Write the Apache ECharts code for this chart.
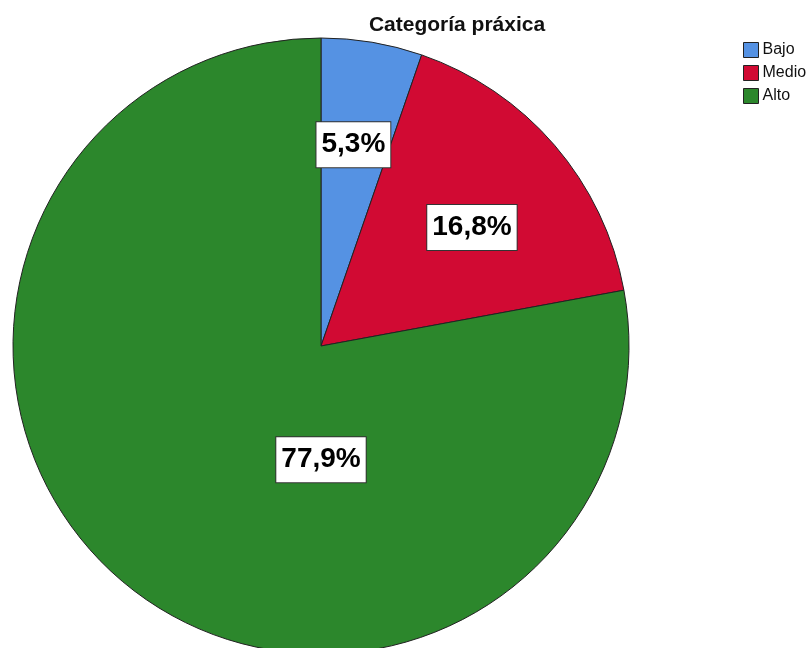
<!DOCTYPE html>
<html>
<head>
<meta charset="utf-8">
<script src="https://cdn.jsdelivr.net/npm/echarts@6/dist/echarts.min.js"></script>
<style>
html,body{margin:0;padding:0;background:#fff;}
#chart{width:811px;height:648px;}
</style>
</head>
<body>
<div id="chart"></div>
<script>
const title = 'Categoría práxica';
const categories = ['Bajo', 'Medio', 'Alto'];
const percents = [5.3, 16.8, 77.9];
const colors = ['#5592e3', '#d10a33', '#2c872c'];

const FONT = '"Liberation Sans", Arial, sans-serif';
const CX = 321, CY = 346, R = 308;

const chart = echarts.init(document.getElementById('chart'), null, {renderer: 'canvas'});

function fmt(v) { return v.toFixed(1).replace('.', ',') + '%'; }

// label anchor: [radius fraction, angle in degrees clockwise from top]
function labelAnchor(i) {
  const total = percents.reduce((a, b) => a + b, 0);
  let start = 0;
  for (let k = 0; k < i; k++) start += percents[k];
  const mid = (start + percents[i] / 2) / total * 360;
  if (i === 0) return [0.662, mid - 0.4];
  if (i === 1) return [0.623, mid + 2.56];
  return [0.369, 180];
}

chart.setOption({
  animation: false,
  backgroundColor: '#fff',
  title: {
    text: title,
    left: 452, top: 10, textAlign: 'center',
    textStyle: {fontFamily: FONT, fontSize: 21, fontWeight: 'bold', color: '#111'}
  },
  legend: {
    orient: 'vertical',
    left: 743, top: 42,
    padding: 0,
    itemWidth: 15, itemHeight: 15, itemGap: 7,
    icon: 'rect',
    data: categories,
    itemStyle: {borderColor: '#222', borderWidth: 1},
    textStyle: {fontFamily: FONT, fontSize: 16, color: '#111', padding: [0, 0, 0, -1]}
  },
  series: [{
    type: 'pie',
    center: [CX, CY],
    radius: R,
    startAngle: 90,
    clockwise: true,
    avoidLabelOverlap: false,
    emphasis: {disabled: true},
    itemStyle: {borderColor: '#222', borderWidth: 1},
    label: {
      show: true,
      position: 'inside',
      formatter: p => fmt(p.value),
      fontFamily: FONT, fontSize: 28, fontWeight: 'bold', color: '#000',
      backgroundColor: '#fff', borderColor: '#333', borderWidth: 1,
      padding: [11, 5, 6, 5]
    },
    labelLine: {show: false},
    labelLayout: function (params) {
      const a = labelAnchor(params.dataIndex);
      const ang = a[1] * Math.PI / 180;
      return {
        x: CX + Math.sin(ang) * R * a[0],
        y: CY - Math.cos(ang) * R * a[0],
        align: 'center', verticalAlign: 'middle'
      };
    },
    data: categories.map((c, i) => ({name: c, value: percents[i], itemStyle: {color: colors[i]}}))
  }]
});
</script>
</body>
</html>
